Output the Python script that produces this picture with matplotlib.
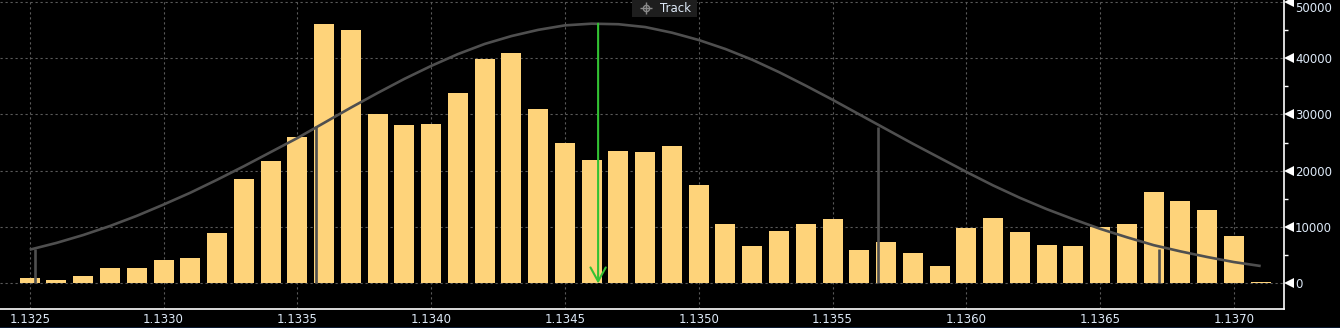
import matplotlib
matplotlib.use("Agg")
import matplotlib.pyplot as plt
from matplotlib.patches import Rectangle
from matplotlib.ticker import MultipleLocator, FixedLocator
import matplotlib.transforms as mtransforms

# ---- data ----
price_levels = [1.1325, 1.1326, 1.1327, 1.1328, 1.1329, 1.1330, 1.1331, 1.1332, 1.1333, 1.1334,
                1.1335, 1.1336, 1.1337, 1.1338, 1.1339, 1.1340, 1.1341, 1.1342, 1.1343, 1.1344,
                1.1345, 1.1346, 1.1347, 1.1348, 1.1349, 1.1350, 1.1351, 1.1352, 1.1353, 1.1354,
                1.1355, 1.1356, 1.1357, 1.1358, 1.1359, 1.1360, 1.1361, 1.1362, 1.1363, 1.1364,
                1.1365, 1.1366, 1.1367, 1.1368, 1.1369, 1.1370, 1.1371]
volumes = [900, 700, 1300, 2700, 2700, 4100, 4600, 8900, 18600, 21800,
           26000, 46100, 44900, 30000, 28100, 28300, 33800, 39800, 40900, 30900,
           24900, 21900, 23500, 23400, 24400, 17400, 10600, 6600, 9400, 10600,
           11400, 5900, 7300, 5400, 3100, 9900, 11700, 9200, 6900, 6600,
           10100, 10600, 16300, 14700, 13100, 8500, 250]
fit_curve = [6000, 7200, 8600, 10200, 12000, 14000, 16100, 18400, 20800, 23300,
             25800, 28500, 31200, 33800, 36300, 38600, 40700, 42500, 43900, 45000,
             45800, 46100, 46000, 45500, 44500, 43200, 41600, 39700, 37500, 35100,
             32600, 30000, 27400, 24800, 22300, 19800, 17400, 15200, 13200, 11400,
             9700, 8200, 6800, 5700, 4700, 3800, 3100]
sigma_x = [1.13252, 1.13357, 1.13567, 1.13672]
sigma_top = [6050, 27900, 27800, 6200]
mean_x = 1.134624
mean_top = 46100
x_ticks = [1.1325, 1.1330, 1.1335, 1.1340, 1.1345, 1.1350, 1.1355, 1.1360, 1.1365, 1.1370]
x_tick_labels = ["1.1325", "1.1330", "1.1335", "1.1340", "1.1345",
                 "1.1350", "1.1355", "1.1360", "1.1365", "1.1370"]
y_ticks = [0, 10000, 20000, 30000, 40000, 50000]
y_tick_labels = ["0", "10000", "20000", "30000", "40000", "50000"]

# ---- style ----
BG = "#000000"
BAR = "#fed37a"
CURVE = "#4f4f4f"
GREEN = "#33c233"
GRID = "#5a5a5a"
TXT = "#dde9f7"

W, H = 1340, 328
fig = plt.figure(figsize=(W / 100, H / 100), dpi=100, facecolor=BG)
ax = fig.add_axes([0, (H - 309) / H, 1284 / W, 309 / H], facecolor=BG)

ax.set_xlim(1.132389, 1.137187)
ax.set_ylim(-4525, 50300)

ax.grid(True, color=GRID, linestyle=(0, (2, 2.5)), linewidth=0.8, zorder=0)
ax.set_axisbelow(True)

ax.bar(price_levels, volumes, width=0.0000747, color=BAR, zorder=2, linewidth=0)
ax.plot(price_levels, fit_curve, color=CURVE, linewidth=1.9, zorder=3, solid_capstyle="butt")
ax.vlines(sigma_x, 0, sigma_top, color=CURVE, linewidth=1.9, zorder=3)

ax.annotate("", xy=(mean_x, 0), xytext=(mean_x, mean_top),
            arrowprops=dict(arrowstyle="->,head_length=1.0,head_width=0.55",
                            color=GREEN, lw=1.5, shrinkA=0, shrinkB=0,
                            mutation_scale=10),
            zorder=5)

# spines
for s in ("left", "top"):
    ax.spines[s].set_visible(False)
for s in ("bottom", "right"):
    ax.spines[s].set_color("white")
    ax.spines[s].set_linewidth(1.2)

ax.xaxis.set_major_locator(FixedLocator(x_ticks))
ax.set_xticklabels(x_tick_labels)
ax.tick_params(axis="x", length=0, pad=3, labelcolor=TXT, labelsize=8.5)

ax.yaxis.tick_right()
ax.yaxis.set_major_locator(FixedLocator(y_ticks))
ax.set_yticklabels(y_tick_labels)
ax.yaxis.set_minor_locator(MultipleLocator(5000))
ax.tick_params(axis="y", which="major", length=0, pad=8, labelcolor=TXT, labelsize=8.5)
ax.tick_params(axis="y", which="minor", length=3, width=1, color="white", direction="out",
               right=True, left=False)

# keep the top label inside the figure (as in the reference)
top_lbl = ax.get_yticklabels()[-1]
top_lbl.set_verticalalignment("top")

# triangular pointers at major y ticks
tri_trans = mtransforms.blended_transform_factory(ax.transAxes, ax.transData) + \
    mtransforms.ScaledTranslation(4.5 / 100, 0, fig.dpi_scale_trans)
ax.plot([1.0] * len(y_ticks), y_ticks, linestyle="none", marker="<", markersize=7,
        color="white", markeredgewidth=0, transform=tri_trans, clip_on=False, zorder=6)

# "Track" badge at top
fig.patches.append(Rectangle((632 / W, 1 - 17 / H), 65 / W, 17 / H, transform=fig.transFigure,
                             facecolor="#1e1e1e", edgecolor="none", zorder=10))
fig.text(660 / W, 1 - 8 / H, "Track", color=TXT, fontsize=8.5, va="center", ha="left", zorder=11)
fig.lines.append(plt.Line2D([646 / W], [1 - 8 / H], transform=fig.transFigure, marker="+",
                            markersize=9, color="#8a8a8a", markeredgewidth=1, zorder=11))
fig.lines.append(plt.Line2D([646 / W], [1 - 8 / H], transform=fig.transFigure, marker="o",
                            markersize=4.5, markerfacecolor="none", markeredgecolor="#8a8a8a",
                            markeredgewidth=1, zorder=11))

# thin dark-blue strip at the very bottom
fig.patches.append(Rectangle((0, 0), 1, 1.5 / H, transform=fig.transFigure,
                             facecolor="#0b1a30", edgecolor="none"))

fig.savefig("out.png", dpi=100, facecolor=BG)
